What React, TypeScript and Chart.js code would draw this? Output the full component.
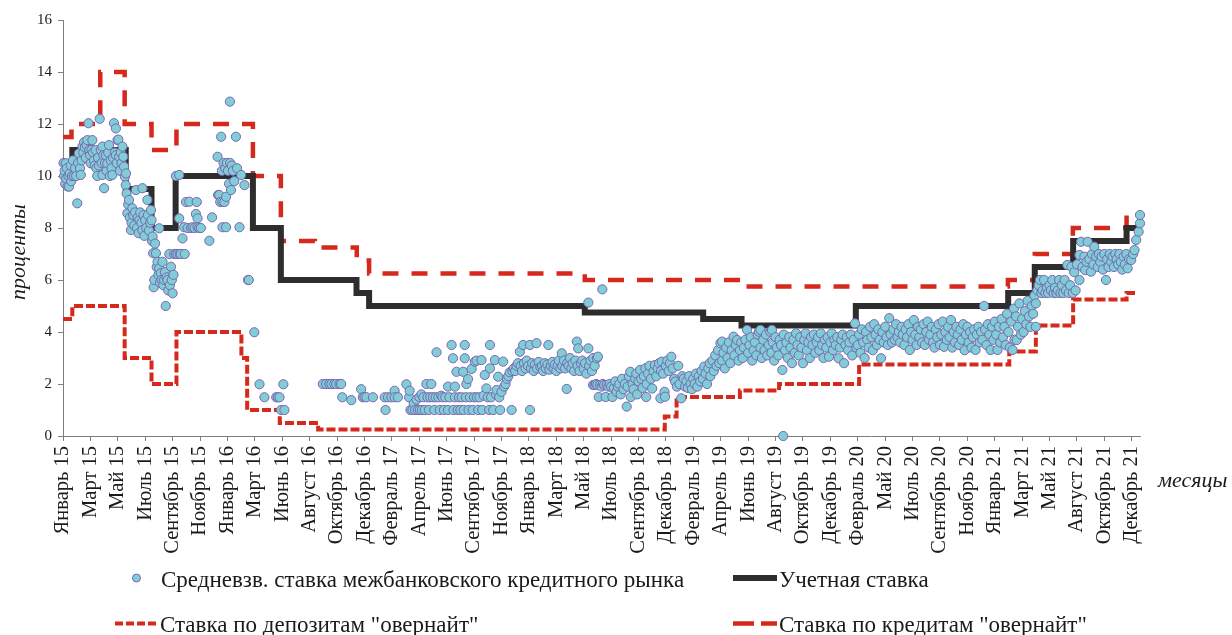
import { useEffect, useRef } from "react";
import { Chart, registerables } from "chart.js";

Chart.register(...registerables);

const FONT = '"Liberation Serif", "Times New Roman", serif';

const monthLabels = [
  "Январь 15", "Март 15", "Май 15", "Июль 15", "Сентябрь 15", "Ноябрь 15",
  "Январь 16", "Март 16", "Июнь 16", "Август 16", "Октябрь 16", "Декабрь 16",
  "Февраль 17", "Апрель 17", "Июнь 17", "Сентябрь 17", "Ноябрь 17",
  "Январь 18", "Март 18", "Май 18", "Июль 18", "Сентябрь 18", "Декабрь 18",
  "Февраль 19", "Апрель 19", "Июнь 19", "Август 19", "Октябрь 19", "Декабрь 19",
  "Февраль 20", "Май 20", "Июль 20", "Сентябрь 20", "Ноябрь 20",
  "Январь 21", "Март 21", "Май 21", "Август 21", "Октябрь 21", "Декабрь 21",
];

const yTicks = [0, 2, 4, 6, 8, 10, 12, 14, 16];

// x = position on the category axis (0 = "Январь 15"), y = percent
const discountBreaks = [0, 0.34, 2.29, 3.23, 4.11, 6.93, 7.95, 10.71, 11.17, 19.04, 23.36, 24.76, 28.93, 34.49, 35.46, 36.86, 38.81];
const discountLevels = [10, 11, 9.5, 8, 10, 8, 6, 5.5, 5, 4.75, 4.5, 4.25, 5, 5.5, 6.5, 7.5, 8];

const creditBreaks = [0, 0.31, 1.36, 2.25, 3.23, 4.14, 6.93, 7.95, 9.19, 10.72, 11.17, 19.04, 24.62, 34.48, 35.46, 36.85, 38.81];
const creditLevels = [11.5, 12, 14, 12, 11, 12, 10, 7.5, 7.25, 6.75, 6.25, 6.0, 5.75, 6.0, 7.0, 8.0, 8.5];

const depositBreaks = [0, 0.34, 2.25, 3.23, 4.14, 6.51, 6.72, 7.91, 9.31, 21.96, 22.39, 24.7, 26.13, 29.05, 34.53, 35.5, 36.86, 38.81];
const depositLevels = [4.5, 5, 3, 2, 4, 3, 1, 0.5, 0.25, 0.75, 1.5, 1.75, 2, 2.75, 3.25, 4.25, 5.25, 5.5];

const lineEnd = 39.2;

const rate2015: [number, number][] = [
  [0.02,10.5],[0.04,10.0],[0.06,10.2],[0.08,9.7],[0.1,10.49],[0.12,9.9],[0.14,10.3],[0.17,9.6],[0.2,10.0],[0.22,9.59],
  [0.25,10.1],[0.28,10.4],[0.3,9.8],[0.33,10.0],[0.36,10.6],[0.4,10.0],[0.44,10.3],[0.48,10.0],[0.52,8.95],[0.55,10.5],
  [0.58,10.87],[0.62,10.3],[0.65,10.04],[0.68,10.6],[0.71,11.13],[0.74,10.9],[0.77,11.3],[0.8,11.1],[0.83,10.7],[0.86,11.2],
  [0.89,11.38],[0.93,12.03],[0.96,11.0],[0.99,10.8],[1.01,10.49],[1.04,11.0],[1.07,11.38],[1.1,10.9],[1.13,10.6],[1.16,10.4],
  [1.19,11.0],[1.22,10.3],[1.25,10.0],[1.28,10.7],[1.31,10.4],[1.34,12.2],[1.38,11.0],[1.41,10.5],[1.44,11.13],[1.44,10.04],
  [1.47,10.8],[1.5,9.53],[1.53,10.5],[1.56,10.8],[1.59,10.2],[1.62,10.49],[1.65,10.9],[1.68,11.19],[1.71,10.0],[1.74,10.6],
  [1.77,10.3],[1.8,10.04],[1.83,10.7],[1.86,12.03],[1.89,10.9],[1.93,11.83],[1.93,10.8],[1.96,10.5],[1.99,11.38],[2.02,11.4],
  [2.05,10.74],[2.08,10.2],[2.11,10.9],[2.14,10.5],[2.17,11.13],[2.2,10.74],[2.23,10.36],[2.26,9.97],[2.29,9.65],[2.3,10.1],
  [2.32,9.33],[2.35,8.57],[2.38,8.9],[2.41,9.08],[2.44,8.4],[2.48,7.92],[2.5,8.2],[2.53,8.76],[2.56,8.5],[2.6,8.1],
  [2.63,8.6],[2.66,9.46],[2.7,8.0],[2.73,8.4],[2.76,7.8],[2.79,8.3],[2.82,8.6],[2.86,8.2],[2.9,9.53],[2.9,7.92],
  [2.94,8.5],[2.97,7.7],[3.0,8.3],[3.04,8.0],[3.08,9.08],[3.1,8.5],[3.14,7.9],[3.18,8.2],[3.21,8.69],[3.23,8.3],
  [3.25,7.5],[3.27,7.67],[3.29,7.03],[3.31,5.72],[3.33,6.0],[3.36,7.4],[3.39,7.03],[3.42,6.5],[3.45,6.7],[3.48,6.2],
  [3.51,7.99],[3.51,6.45],[3.54,5.9],[3.57,6.26],[3.6,6.0],[3.63,6.7],[3.66,5.8],[3.69,6.0],[3.72,6.3],[3.75,5.0],
  [3.78,6.1],[3.81,6.0],[3.84,5.6],[3.88,7.0],[3.9,5.8],[3.94,6.51],[3.97,6.0],[4.0,5.49],[4.03,6.2],[4.06,7.0],
  [4.12,7.0],[4.12,10.0],[4.18,7.0],[4.24,8.37],[4.24,10.04],[4.26,7.0],[4.3,7.0],[4.36,7.6],[4.42,8.03],[4.44,7.0],
  [4.49,9.0],[4.55,8.0],[4.61,9.01],[4.67,8.0],[4.73,8.03],[4.8,8.0],[4.85,8.54],[4.88,9.0],[4.91,8.37],[4.91,8.03],
  [4.97,8.0],[5.03,8.0],[5.34,7.51],[5.44,8.41],
];

const rate2016: [number, number][] = [
  [5.64,10.74],[5.66,9.27],[5.7,9.27],[5.74,9.0],[5.77,11.51],[5.8,10.2],[5.82,8.03],[5.82,9.01],[5.86,10.5],[5.89,9.0],
  [5.92,10.3],[5.95,8.03],[5.95,9.2],[5.98,10.5],[6.02,10.2],[6.06,9.7],[6.09,12.86],[6.1,10.5],[6.13,9.46],[6.16,10.4],
  [6.2,10.2],[6.25,9.8],[6.31,11.51],[6.35,10.3],[6.44,8.03],[6.5,10.04],[6.62,9.65],[6.75,6.0],[6.78,6.0],[6.98,3.99],
  [7.17,1.99],[7.35,1.49],[7.78,1.49],[7.84,1.49],[7.9,1.49],[7.96,1.0],[8.04,1.99],[8.08,1.0],
  [9.48,2.0],[9.6,2.0],[9.72,2.0],[9.79,2.0],[9.9,2.0],[9.97,2.0],[10.09,2.0],[10.15,2.0],[10.19,1.49],[10.52,1.38],
  [10.88,1.8],[10.94,1.49],[11.0,1.5],[11.07,1.49],[11.31,1.49],
];

const rate2017: [number, number][] = [
  [11.74,1.49],[11.77,1.0],[11.86,1.49],[11.98,1.49],[12.1,1.74],[12.1,1.49],[12.22,1.49],[12.53,1.99],[12.63,1.49],[12.65,1.74],
  [12.68,1.0],[12.75,1.0],[12.8,1.25],[12.85,1.0],[12.9,1.4],[12.95,1.0],[13.0,1.5],[13.02,1.0],[13.08,1.6],[13.1,1.0],
  [13.15,1.49],[13.2,1.0],[13.26,2.0],[13.3,1.49],[13.35,1.0],[13.4,1.49],[13.44,2.0],[13.5,1.49],[13.55,1.0],[13.6,1.49],
  [13.63,3.22],[13.7,1.49],[13.75,1.0],[13.8,1.55],[13.85,1.49],[13.9,1.0],[13.95,1.49],[14.05,1.9],[14.05,1.0],[14.1,1.49],
  [14.18,3.5],[14.23,2.99],[14.25,1.0],[14.3,1.9],[14.3,1.49],[14.36,2.47],[14.4,1.0],[14.45,1.49],[14.5,1.0],[14.55,1.49],
  [14.6,2.47],[14.62,1.0],[14.66,3.5],[14.66,2.99],[14.7,1.49],[14.72,2.0],[14.78,2.19],[14.8,1.0],[14.85,1.49],[14.91,2.58],
  [14.95,1.0],[15.0,1.49],[15.03,2.86],[15.09,2.9],[15.1,1.49],[15.15,1.0],[15.2,1.49],[15.27,2.92],[15.3,1.0],[15.35,1.55],
  [15.39,2.35],[15.45,1.83],[15.5,1.49],[15.55,1.0],[15.58,3.5],[15.58,2.6],[15.62,1.49],[15.7,1.0],[15.76,2.92],[15.8,1.6],
  [15.82,1.77],[15.88,2.28],[15.92,1.49],[15.95,1.0],[16.0,1.7],[16.06,2.86],[16.1,1.9],[16.15,2.0],[16.2,2.2],[16.25,2.3],
  [16.3,2.45],[16.37,1.0],[16.4,2.5],[16.45,2.6],[16.5,2.5],[16.55,2.7],[16.6,2.8],
];

const rate2018: [number, number][] = [
  [16.67,3.24],[16.7,2.7],[16.75,2.5],[16.79,3.5],[16.82,2.8],[16.88,2.6],[16.92,2.9],[16.97,2.7],[17.04,3.5],[17.04,1.0],
  [17.08,2.6],[17.12,2.8],[17.18,2.5],[17.22,2.75],[17.28,3.57],[17.3,2.6],[17.36,2.85],[17.42,2.65],[17.48,2.7],[17.52,2.5],
  [17.58,2.8],[17.62,2.6],[17.68,2.75],[17.71,3.5],[17.75,2.55],[17.8,2.7],[17.86,2.85],[17.9,2.6],[17.95,2.75],[18.0,2.5],
  [18.05,2.7],[18.1,2.9],[18.15,2.6],[18.2,3.18],[18.22,2.7],[18.28,2.9],[18.32,2.6],[18.38,1.81],[18.4,2.8],[18.45,2.7],
  [18.5,3.0],[18.55,2.6],[18.6,2.8],[18.65,2.5],[18.7,2.9],[18.75,3.63],[18.78,2.7],[18.8,3.37],[18.85,2.5],[18.9,2.8],
  [18.95,2.9],[19.0,2.6],[19.05,2.8],[19.1,2.4],[19.17,3.37],[19.17,5.13],[19.2,2.7],[19.25,2.9],[19.3,2.5],[19.35,3.0],
  [19.4,2.7],[19.48,2.99],[19.52,3.05],[19.68,5.64],
  [19.34,1.96],[19.4,1.96],[19.45,2.0],[19.5,1.96],[19.55,1.5],[19.6,1.96],[19.65,1.9],[19.7,2.0],[19.75,1.96],[19.8,1.5],
  [19.84,1.96],[19.9,1.9],[19.95,2.0],[20.0,1.9],[20.05,1.5],[20.1,1.85],[20.15,2.1],[20.2,1.7],[20.25,1.9],[20.3,2.0],
  [20.35,1.6],[20.4,2.2],[20.45,1.8],[20.5,2.0],[20.57,1.13],[20.6,1.9],[20.65,2.3],[20.7,2.47],[20.72,1.5],[20.78,2.0],
  [20.82,1.8],[20.88,2.2],[20.92,2.4],[20.95,1.6],[21.0,2.1],[21.06,2.54],[21.1,2.2],[21.15,1.85],[21.2,2.3],[21.25,2.6],
  [21.28,1.5],[21.3,2.0],[21.35,2.4],[21.4,2.7],[21.45,2.2],[21.5,1.83],[21.55,2.5],[21.6,2.73],[21.65,2.3],[21.7,2.6],
  [21.75,2.8],[21.8,1.45],[21.82,2.5],[21.85,2.86],[21.9,2.4],[21.95,1.7],[21.97,1.51],[22.0,2.7],[22.05,2.9],[22.1,2.5],
  [22.15,2.8],[22.2,3.05],[22.25,2.6],[22.3,2.2],[22.34,2.09],[22.4,1.9],[22.45,2.7],[22.5,2.0],[22.56,1.45],[22.6,2.3],
];

const rate2019: [number, number][] = [
  [22.65,2.2],[22.7,1.9],[22.75,2.1],[22.8,1.85],[22.85,2.3],[22.9,2.0],[22.95,1.8],[23.0,2.2],[23.05,2.0],[23.1,2.4],
  [23.15,1.9],[23.2,2.3],[23.25,2.1],[23.3,2.5],[23.35,2.2],[23.4,2.67],[23.45,2.4],[23.5,2.0],[23.55,2.6],[23.6,2.8],
  [23.62,2.3],[23.7,2.9],[23.75,2.5],[23.8,3.1],[23.85,2.7],[23.9,3.3],[23.95,2.8],[23.99,3.57],[24.05,3.63],[24.05,2.9],
  [24.1,3.2],[24.15,2.6],[24.2,3.4],[24.25,3.0],[24.3,3.6],[24.35,2.8],[24.4,3.3],[24.47,3.82],[24.5,3.1],[24.55,3.5],
  [24.6,3.69],[24.65,2.9],[24.7,3.3],[24.75,3.6],[24.8,3.0],[24.85,3.4],[24.9,3.7],[24.96,4.08],[25.0,3.2],[25.05,3.5],
  [25.1,3.8],[25.15,2.9],[25.2,3.3],[25.25,3.6],[25.3,3.1],[25.35,3.9],[25.39,4.01],[25.45,4.08],[25.45,3.4],[25.5,3.0],
  [25.55,3.7],[25.6,3.3],[25.65,3.9],[25.7,3.1],[25.75,3.5],[25.81,4.01],[25.85,3.2],[25.87,4.08],[25.9,3.6],[25.95,2.9],
  [26.0,3.8],[26.05,3.4],[26.1,3.1],[26.15,3.7],[26.2,3.5],[26.25,2.54],[26.28,0.0],[26.3,3.9],[26.35,3.3],[26.4,3.6],
  [26.45,3.0],[26.5,3.8],[26.55,3.4],[26.6,2.8],[26.65,3.7],[26.7,3.2],[26.75,3.95],[26.8,3.5],[26.85,3.1],[26.9,3.8],
  [26.95,3.4],[27.0,2.8],[27.05,3.7],[27.1,3.95],[27.15,3.3],[27.2,3.6],[27.25,3.0],[27.3,3.8],[27.35,3.5],[27.4,3.9],
  [27.45,3.2],[27.5,3.6],[27.55,3.8],[27.6,3.3],[27.65,3.95],[27.7,3.5],[27.75,3.0],[27.8,3.7],[27.85,3.4],[27.9,3.8],
  [27.95,3.05],[28.0,3.6],[28.05,3.95],[28.1,3.3],[28.15,3.7],[28.2,3.5],[28.25,3.8],[28.3,2.99],[28.35,3.4],[28.4,3.7],
  [28.45,3.9],[28.5,2.8],[28.55,3.5],[28.6,3.8],[28.65,3.3],[28.7,3.6],[28.75,3.9],[28.8,3.1],[28.85,3.7],[28.9,4.33],
  [28.95,3.4],
];

const rate2020: [number, number][] = [
  [29.0,3.5],[29.05,3.9],[29.1,3.2],[29.15,4.1],[29.2,3.6],[29.25,3.0],[29.3,4.0],[29.35,3.7],[29.4,3.4],[29.45,4.2],
  [29.5,3.8],[29.55,3.3],[29.6,4.3],[29.65,3.9],[29.7,3.5],[29.75,4.1],[29.8,3.7],[29.85,2.99],[29.9,4.0],[29.95,3.6],
  [30.0,4.2],[30.05,3.8],[30.1,3.5],[30.15,4.53],[30.2,3.9],[30.25,3.6],[30.3,4.1],[30.35,3.7],[30.4,4.3],[30.45,3.8],
  [30.5,4.0],[30.55,3.6],[30.6,4.2],[30.65,3.9],[30.7,3.5],[30.75,4.1],[30.8,3.8],[30.85,4.3],[30.9,3.31],[30.95,4.0],
  [31.0,3.7],[31.05,4.46],[31.1,3.9],[31.15,3.5],[31.2,4.2],[31.25,3.8],[31.3,4.1],[31.35,3.6],[31.4,4.3],[31.45,3.5],
  [31.5,4.0],[31.55,4.4],[31.6,3.7],[31.65,3.9],[31.7,4.2],[31.75,3.6],[31.8,3.4],[31.85,4.1],[31.9,3.8],[31.95,4.3],
  [32.0,3.5],[32.05,3.9],[32.1,4.4],[32.15,3.43],[32.2,4.0],[32.25,3.7],[32.3,4.2],[32.35,3.8],[32.4,4.46],[32.45,3.4],
  [32.5,4.0],[32.55,3.6],[32.6,4.2],[32.65,3.9],[32.7,3.5],[32.75,4.1],[32.8,3.7],[32.85,4.3],[32.9,3.3],[32.95,3.9],
  [33.0,4.2],[33.05,3.6],[33.1,4.0],[33.15,3.4],[33.2,3.8],[33.25,4.1],[33.3,3.31],[33.35,3.9],[33.4,4.2],[33.45,3.6],
  [33.5,4.0],[33.55,3.7],[33.61,5.0],[33.65,4.1],[33.7,3.5],[33.75,4.3],[33.8,3.9],[33.85,3.31],[33.9,4.2],[33.95,3.7],
  [34.0,4.4],[34.05,3.9],[34.1,3.31],[34.15,4.2],[34.2,3.6],[34.25,4.5],[34.3,3.8],[34.35,4.2],[34.4,3.5],[34.45,4.7],
  [34.5,4.0],
];

const rate2021: [number, number][] = [
  [34.55,3.4],[34.6,4.4],[34.65,3.31],[34.7,4.9],[34.72,3.7],[34.78,4.6],[34.8,3.69],[34.85,4.2],[34.9,5.1],[34.95,3.9],
  [35.0,4.5],[35.05,4.0],[35.1,4.8],[35.15,4.3],[35.2,5.2],[35.25,4.6],[35.3,4.2],[35.35,5.0],[35.4,4.7],[35.45,5.4],
  [35.5,5.1],[35.5,4.2],[35.55,5.6],[35.6,5.8],[35.65,6.0],[35.7,5.5],[35.75,5.6],[35.8,6.0],[35.85,5.5],[35.9,5.7],
  [35.95,5.5],[36.0,5.8],[36.05,5.6],[36.1,6.0],[36.15,5.5],[36.2,5.7],[36.25,5.5],[36.3,5.6],[36.35,6.0],[36.4,5.5],
  [36.45,5.8],[36.5,5.5],[36.55,6.0],[36.6,5.6],[36.65,6.58],[36.7,5.5],[36.75,5.8],[36.8,6.51],[36.85,5.5],[36.9,6.3],
  [36.95,5.6],[37.0,6.6],[37.09,6.96],[37.09,6.0],[37.15,7.47],[37.2,6.5],[37.27,6.9],[37.3,6.38],[37.35,6.7],[37.39,7.47],
  [37.45,6.8],[37.51,6.32],[37.55,7.0],[37.6,6.6],[37.63,7.28],[37.7,6.9],[37.76,6.5],[37.8,7.0],[37.85,6.7],[37.9,6.9],
  [37.95,6.4],[38.0,7.0],[38.06,6.0],[38.1,6.8],[38.15,6.5],[38.2,7.0],[38.25,6.7],[38.3,6.9],[38.35,6.5],[38.4,7.0],
  [38.45,6.8],[38.5,6.6],[38.55,7.0],[38.6,6.7],[38.65,6.4],[38.7,6.9],[38.75,6.6],[38.8,7.0],[38.85,6.45],[38.9,6.8],
  [38.98,6.77],[39.05,7.0],[39.1,7.15],[39.16,7.54],[39.25,7.86],[39.3,8.18],[39.3,8.5],
];

const seriesNames = [
  "Средневзв. ставка межбанковского кредитного рынка",
  "Учетная ставка",
  "Ставка по депозитам \"овернайт\"",
  "Ставка по кредитам \"овернайт\"",
];

const COLORS = {
  fill: "#80cdd5",
  border: "#7a66b2",
  black: "#2d2d2d",
  red: "#d6291d",
  axis: "#7f7f7f",
  text: "#1a1a1a",
};

const toSteps = (breaks: number[], levels: number[], end: number) => [
  ...breaks.map((x, i) => ({ x, y: levels[i] })),
  { x: end, y: levels[levels.length - 1] },
];

const overlayPlugin = {
  id: "overlay",
  afterDraw(chart: any) {
    const ctx = chart.ctx as CanvasRenderingContext2D;
    ctx.save();
    ctx.fillStyle = COLORS.text;
    // axis titles
    ctx.font = `italic 22px ${FONT}`;
    ctx.save();
    ctx.translate(19, 252);
    ctx.rotate(-Math.PI / 2);
    ctx.textAlign = "center";
    ctx.textBaseline = "middle";
    ctx.fillText("проценты", 0, 0);
    ctx.restore();
    ctx.textAlign = "left";
    ctx.textBaseline = "middle";
    ctx.fillText("месяцы", 1158, 481);

    // legend
    ctx.font = `23px ${FONT}`;
    ctx.textBaseline = "alphabetic";
    const row1 = 578;
    const row2 = 623.5;
    // scatter marker
    ctx.beginPath();
    ctx.arc(136.5, row1, 4, 0, Math.PI * 2);
    ctx.fillStyle = COLORS.fill;
    ctx.fill();
    ctx.lineWidth = 1;
    ctx.strokeStyle = COLORS.border;
    ctx.stroke();
    ctx.fillStyle = COLORS.text;
    ctx.fillText(seriesNames[0], 161, row1 + 8.5);
    // discount rate
    ctx.beginPath();
    ctx.moveTo(733, row1);
    ctx.lineTo(777, row1);
    ctx.lineWidth = 6;
    ctx.strokeStyle = COLORS.black;
    ctx.stroke();
    ctx.fillText(seriesNames[1], 779, row1 + 8.5);
    // deposit
    ctx.beginPath();
    ctx.setLineDash([8, 3]);
    ctx.moveTo(115, row2);
    ctx.lineTo(158, row2);
    ctx.lineWidth = 4;
    ctx.strokeStyle = COLORS.red;
    ctx.stroke();
    ctx.fillText(seriesNames[2], 160, row2 + 8.5);
    // credit
    ctx.beginPath();
    ctx.setLineDash([21, 7]);
    ctx.moveTo(733, row2);
    ctx.lineTo(777, row2);
    ctx.lineWidth = 4.5;
    ctx.stroke();
    ctx.setLineDash([]);
    ctx.fillText(seriesNames[3], 779, row2 + 8.5);
    ctx.restore();
  },
};

export default function App() {
  const canvasRef = useRef<HTMLCanvasElement | null>(null);

  useEffect(() => {
    const canvas = canvasRef.current;
    if (!canvas) return;
    const points = [...rate2015, ...rate2016, ...rate2017, ...rate2018, ...rate2019, ...rate2020, ...rate2021].map(
      ([x, y]) => ({ x, y })
    );
    const gridCfg = {
      display: true,
      drawOnChartArea: false,
      drawTicks: true,
      tickLength: 5,
      color: COLORS.axis,
      lineWidth: 1,
    };
    const chart = new Chart(canvas, {
      type: "scatter",
      data: {
        datasets: [
          {
            type: "scatter",
            label: seriesNames[0],
            data: points,
            pointRadius: 4.6,
            pointBackgroundColor: COLORS.fill,
            pointBorderColor: COLORS.border,
            pointBorderWidth: 1,
            showLine: false,
            clip: false,
          } as any,
          {
            type: "line",
            label: seriesNames[1],
            data: toSteps(discountBreaks, discountLevels, lineEnd),
            borderColor: COLORS.black,
            borderWidth: 6,
            stepped: "before",
            pointRadius: 0,
            fill: false,
            clip: false,
          } as any,
          {
            type: "line",
            label: seriesNames[3],
            data: toSteps(creditBreaks, creditLevels, lineEnd),
            borderColor: COLORS.red,
            borderWidth: 4.5,
            borderDash: [16, 13],
            stepped: "before",
            pointRadius: 0,
            fill: false,
            clip: false,
          } as any,
          {
            type: "line",
            label: seriesNames[2],
            data: toSteps(depositBreaks, depositLevels, lineEnd),
            borderColor: COLORS.red,
            borderWidth: 4,
            borderDash: [9, 3],
            stepped: "before",
            pointRadius: 0,
            fill: false,
            clip: false,
          } as any,
        ],
      },
      options: {
        responsive: false,
        animation: false,
        events: [],
        layout: { padding: { left: 0, right: 92, top: 20, bottom: 0 } },
        plugins: { legend: { display: false }, tooltip: { enabled: false } },
        scales: {
          x: {
            type: "linear",
            min: 0,
            max: 39.3,
            afterBuildTicks: (s: any) => {
              s.ticks = monthLabels.map((_, i) => ({ value: i }));
            },
            afterFit: (s: any) => {
              s.height = 199;
            },
            ticks: {
              autoSkip: false,
              maxRotation: 90,
              minRotation: 90,
              padding: 5,
              color: COLORS.text,
              font: { family: FONT, size: 20.5 },
              callback: (v: any) => monthLabels[Math.round(Number(v))] ?? "",
            },
            grid: gridCfg,
            border: { display: true, color: COLORS.axis, width: 1 },
          },
          y: {
            min: 0,
            max: 16,
            afterBuildTicks: (s: any) => {
              s.ticks = yTicks.map((value) => ({ value }));
            },
            afterFit: (s: any) => {
              s.width = 63;
            },
            ticks: {
              padding: 6,
              color: COLORS.text,
              font: { family: FONT, size: 15 },
            },
            grid: gridCfg,
            border: { display: true, color: COLORS.axis, width: 1 },
          },
        },
      } as any,
      plugins: [overlayPlugin],
    });
    return () => chart.destroy();
  }, []);

  return (
    <div style={{ position: "fixed", left: 0, top: 0, width: 1232, height: 635, background: "#fff" }}>
      <canvas ref={canvasRef} width={1232} height={635} style={{ width: 1232, height: 635, display: "block" }} />
    </div>
  );
}
